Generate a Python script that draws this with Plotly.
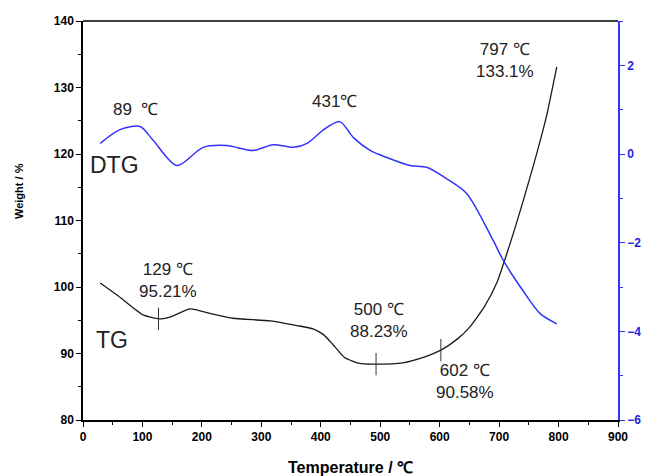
import plotly.graph_objects as go

# TG curve (weight %, left axis)
tg_temp = [29, 60, 101, 129, 150, 180, 215, 252, 315, 360, 387, 405, 420, 440, 465, 493, 538, 575, 602, 630, 651, 675, 696, 723, 740, 760, 780, 797]
tg_weight = [100.6, 98.6, 95.8, 95.2, 95.6, 96.7, 96.0, 95.3, 94.9, 94.2, 93.7, 92.8, 91.4, 89.4, 88.5, 88.4, 88.6, 89.5, 90.5, 92.2, 94.0, 97.0, 100.6, 107.8, 112.8, 119.0, 125.8, 133.1]

# DTG curve (right axis)
dtg_temp = [29, 62, 96, 118, 158, 202, 242, 286, 320, 354, 377, 405, 432, 455, 483, 511, 550, 578, 612, 646, 690, 707, 740, 769, 797]
dtg_value = [0.24, 0.55, 0.62, 0.31, -0.26, 0.15, 0.19, 0.08, 0.21, 0.15, 0.24, 0.55, 0.73, 0.37, 0.08, -0.08, -0.26, -0.30, -0.56, -0.90, -1.95, -2.40, -3.08, -3.60, -3.83]

# marked points on TG
mark_temp = [127, 493, 602]
mark_weight = [95.2, 88.4, 90.5]

fig = go.Figure()
fig.add_trace(go.Scatter(x=tg_temp, y=tg_weight, mode="lines",
                         line=dict(color="#1a1a1a", width=1.3, shape="spline", smoothing=0.5),
                         showlegend=False))
fig.add_trace(go.Scatter(x=mark_temp, y=mark_weight, mode="markers",
                         marker=dict(symbol="line-ns", size=16, line=dict(color="#333333", width=1)),
                         showlegend=False))
fig.add_trace(go.Scatter(x=dtg_temp, y=dtg_value, mode="lines", yaxis="y2",
                         line=dict(color="#3333ff", width=1.5, shape="spline", smoothing=0.8),
                         showlegend=False))

tickfont = dict(family="Arial", size=12, color="black", weight="bold")
fig.update_layout(
    width=647, height=476,
    margin=dict(l=83, r=29, t=21, b=56),
    plot_bgcolor="white", paper_bgcolor="white",
    font=dict(family="Arial"),
    xaxis=dict(range=[0, 900], dtick=100, showline=True, linecolor="black", linewidth=1.5,
               mirror=False, ticks="outside", ticklen=5, tickcolor="black", automargin=False,
               minor=dict(dtick=50, ticks="outside", ticklen=3, tickcolor="black"),
               showgrid=False, zeroline=False, tickfont=tickfont),
    yaxis=dict(range=[80, 140], dtick=10, showline=True, linecolor="black", linewidth=1.5,
               ticks="outside", ticklen=5, tickcolor="black", automargin=False,
               minor=dict(dtick=5, ticks="outside", ticklen=3, tickcolor="black"),
               showgrid=False, zeroline=False, tickfont=tickfont),
    yaxis2=dict(range=[-6, 3], dtick=2, tick0=0, overlaying="y", side="right", showline=True,
                linecolor="#3333ff", linewidth=1.5, ticks="outside", ticklen=5, tickcolor="#3333ff",
                automargin=False,
                minor=dict(dtick=1, ticks="outside", ticklen=3, tickcolor="#3333ff"),
                showgrid=False, zeroline=False,
                tickfont=dict(family="Arial", size=12, color="#2222dd", weight="bold")),
    shapes=[dict(type="line", xref="paper", yref="paper", x0=0, x1=1, y0=1, y1=1,
                 line=dict(color="black", width=1.5))],
)

def px2paper(px, py):
    return (px - 83) / 535, 1 - (py - 21) / 399

anns = [
    (135, 110, "89  ℃", 17),
    (334, 102, "431℃", 17),
    (505, 60, "797 ℃<br>133.1%", 17),
    (114, 165, "DTG", 23),
    (168, 280, "129 ℃<br>95.21%", 17),
    (112, 340, "TG", 23),
    (379, 320, "500 ℃<br>88.23%", 17),
    (465, 381, "602 ℃<br>90.58%", 17),
]
for px, py, t, s in anns:
    x, y = px2paper(px, py)
    fig.add_annotation(x=x, y=y, xref="paper", yref="paper",
                       xanchor="center", yanchor="middle",
                       text=t, showarrow=False, font=dict(family="Arial", size=s, color="#222222"),
                       align="center")

# axis titles
x, y = px2paper(350, 467)
fig.add_annotation(x=x, y=y, xref="paper", yref="paper", xanchor="center", yanchor="middle",
                   text="<b>Temperature / ℃</b>", showarrow=False,
                   font=dict(family="Arial", size=16, color="black"))
x, y = px2paper(19, 191)
fig.add_annotation(x=x, y=y, xref="paper", yref="paper", xanchor="center", yanchor="middle",
                   text="<b>Weight / %</b>", showarrow=False, textangle=-90,
                   font=dict(family="Arial", size=11, color="black"))

fig.write_html("out.html", config={"displayModeBar": False},
               post_script="document.body.style.margin='0';document.body.style.overflow='hidden';")
